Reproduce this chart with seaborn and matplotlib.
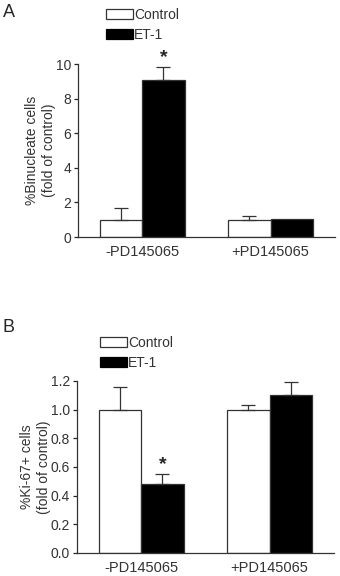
import numpy as np
import pandas as pd
import seaborn as sns
import matplotlib.pyplot as plt
from matplotlib.patches import Patch

# Datos
grupos = ['-PD145065', '+PD145065']
tratamientos = ['Control', 'ET-1']

binucleadas = [1.0, 9.1, 1.0, 1.03]
binucleadas_err = [0.65, 0.75, 0.2, 0.0]

ki67 = [1.0, 0.48, 1.0, 1.1]
ki67_err = [0.16, 0.07, 0.035, 0.09]

sns.set_style('ticks')
plt.rcParams['font.family'] = ['Liberation Sans', 'DejaVu Sans']

fig = plt.figure(figsize=(3.4, 5.76), dpi=100)
ax_a = fig.add_axes([0.229, 0.5885, 0.756, 0.3003])
ax_b = fig.add_axes([0.226, 0.040, 0.756, 0.2986])


def panel(ax, valores, errores, ylim, yticks, ylabel, estrella):
    df = pd.DataFrame({
        'grupo': np.repeat(grupos, 2),
        'trat': tratamientos * 2,
        'valor': valores,
    })
    sns.barplot(data=df, x='grupo', y='valor', hue='trat', hue_order=tratamientos,
                palette=['white', 'black'], edgecolor='#333333', linewidth=0.9,
                width=0.66, errorbar=None, legend=False, ax=ax)
    # barras de error solo hacia arriba
    barras = ax.patches[:4]
    orden = [0, 2, 1, 3]  # seaborn dibuja por tono
    for k, p in enumerate(barras):
        i = orden[k]
        xc = p.get_x() + p.get_width() / 2
        if errores[i] > 0:
            ax.errorbar(xc, valores[i], yerr=[[0], [errores[i]]], fmt='none',
                        ecolor='#333333', elinewidth=0.9, capsize=5, capthick=0.9)
        if i == estrella:
            ax.text(xc, valores[i] + errores[i] + ylim[1] * 0.005, '*', ha='center',
                    va='bottom', fontsize=14, fontweight='bold')
    ax.set_xlim(-0.5, 1.5)
    ax.set_ylim(*ylim)
    ax.set_yticks(yticks)
    ax.set_xlabel('')
    ax.set_ylabel(ylabel, fontsize=10, color='#333333', labelpad=0)
    ax.tick_params(axis='x', length=0, labelsize=10.5, labelcolor='#333333', pad=6)
    ax.tick_params(axis='y', length=3, width=0.9, labelsize=10, labelcolor='#333333', pad=2)
    sns.despine(ax=ax)
    for s in ['left', 'bottom']:
        ax.spines[s].set_linewidth(0.9)
        ax.spines[s].set_color('#333333')


panel(ax_a, binucleadas, binucleadas_err, (0, 10), [0, 2, 4, 6, 8, 10],
      '%Binucleate cells\n(fold of control)', 1)
panel(ax_b, ki67, ki67_err, (0, 1.2), [0.0, 0.2, 0.4, 0.6, 0.8, 1.0, 1.2],
      '%Ki-67+ cells\n(fold of control)', 1)
ax_b.set_yticklabels(['0.0', '0.2', '0.4', '0.6', '0.8', '1.0', '1.2'])

manijas = [Patch(facecolor='white', edgecolor='#333333', linewidth=0.9),
           Patch(facecolor='black', edgecolor='black', linewidth=0.9)]
for ax, y0, x0 in [(ax_a, 1 + 2 / 576, 96 / 340), (ax_b, 1 - 326 / 576, 90 / 340)]:
    fig.legend(manijas, tratamientos, loc='upper left', bbox_to_anchor=(x0, y0),
               frameon=False, fontsize=10, handlelength=1.95, handleheight=0.7,
               handletextpad=0.1, labelspacing=0.45, borderpad=0.2,
               labelcolor='#333333')

fig.text(3 / 340, 1 - 17 / 576, 'A', fontsize=13)
fig.text(3 / 340, 1 - 332 / 576, 'B', fontsize=13)

plt.savefig('out.png', dpi=100)
